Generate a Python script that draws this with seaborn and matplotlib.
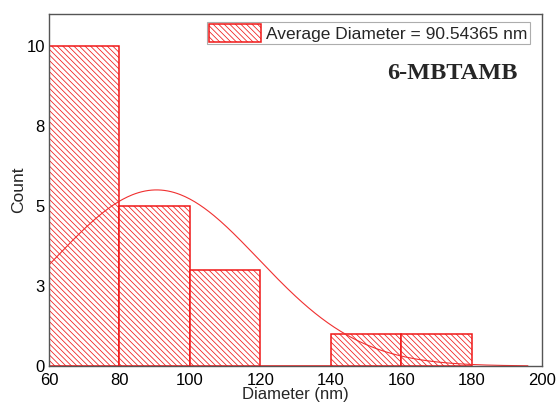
import numpy as np
import pandas as pd
import matplotlib
matplotlib.use("Agg")
import matplotlib.pyplot as plt
import seaborn as sns

bin_edges = [60, 80, 100, 120, 140, 160, 180]
bin_centers = [70, 90, 110, 130, 150, 170]
counts = [10, 5, 3, 0, 1, 1]
fit_mean = 90.54365
fit_sd = 29.0
x_ticks = [60, 80, 100, 120, 140, 160, 180, 200]
y_ticks = [0, 2.5, 5, 7.5, 10]
y_tick_labels = ["0", "3", "5", "8", "10"]

sns.set_style("white")
plt.rcParams['font.family'] = ['Liberation Sans', 'DejaVu Sans']
plt.rcParams['hatch.linewidth'] = 0.55
plt.rcParams['hatch.color'] = '#f05050'

fig = plt.figure(figsize=(5.59, 4.08), dpi=100)
ax = fig.add_axes([49/559, 42/408, (542-49)/559, (366-14)/408])

df = pd.DataFrame({"Diameter": bin_centers, "Count": counts})
sns.histplot(data=df, x="Diameter", weights="Count", bins=bin_edges, ax=ax,
             stat="count", fill=True, facecolor="white", edgecolor="#f01818",
             linewidth=1.1, hatch="\\\\\\\\\\\\", alpha=1.0,
             label="Average Diameter = 90.54365 nm")

total = sum(counts)
width = bin_edges[1] - bin_edges[0]
xs = np.linspace(60, 196, 300)
ys = total * width / (fit_sd * np.sqrt(2 * np.pi)) * np.exp(-(xs - fit_mean) ** 2 / (2 * fit_sd ** 2))
sns.lineplot(x=xs, y=ys, ax=ax, color="#f03030", linewidth=0.8)

ax.set_xlim(60, 200)
ax.set_ylim(0, 11)
ax.set_xticks(x_ticks)
ax.set_yticks(y_ticks)
ax.set_yticklabels(y_tick_labels)
ax.tick_params(axis='both', length=0, labelsize=12, colors='black')
ax.tick_params(axis='x', pad=5)
ax.tick_params(axis='y', pad=3)
ax.set_xlabel("Diameter (nm)", fontsize=12, labelpad=-1)
ax.set_ylabel("Count", fontsize=12.5, labelpad=0.5)
for s in ax.spines.values():
    s.set_color("#555555")
    s.set_linewidth(1.0)

leg = ax.legend(loc="upper right", fontsize=12.5, frameon=True, fancybox=False,
                borderpad=0.12, handlelength=3.0, handleheight=1.2,
                handletextpad=0.3, bbox_to_anchor=(0.975, 0.977),
                borderaxespad=0.0)
leg.get_frame().set_edgecolor("#999999")
leg.get_frame().set_linewidth(0.8)

ax.text(0.951, 0.83, "6-MBTAMB", transform=ax.transAxes, ha="right", va="center",
        fontsize=17.5, fontweight="bold", family=["Liberation Serif", "DejaVu Serif"])

fig.savefig("out.png", dpi=100)
